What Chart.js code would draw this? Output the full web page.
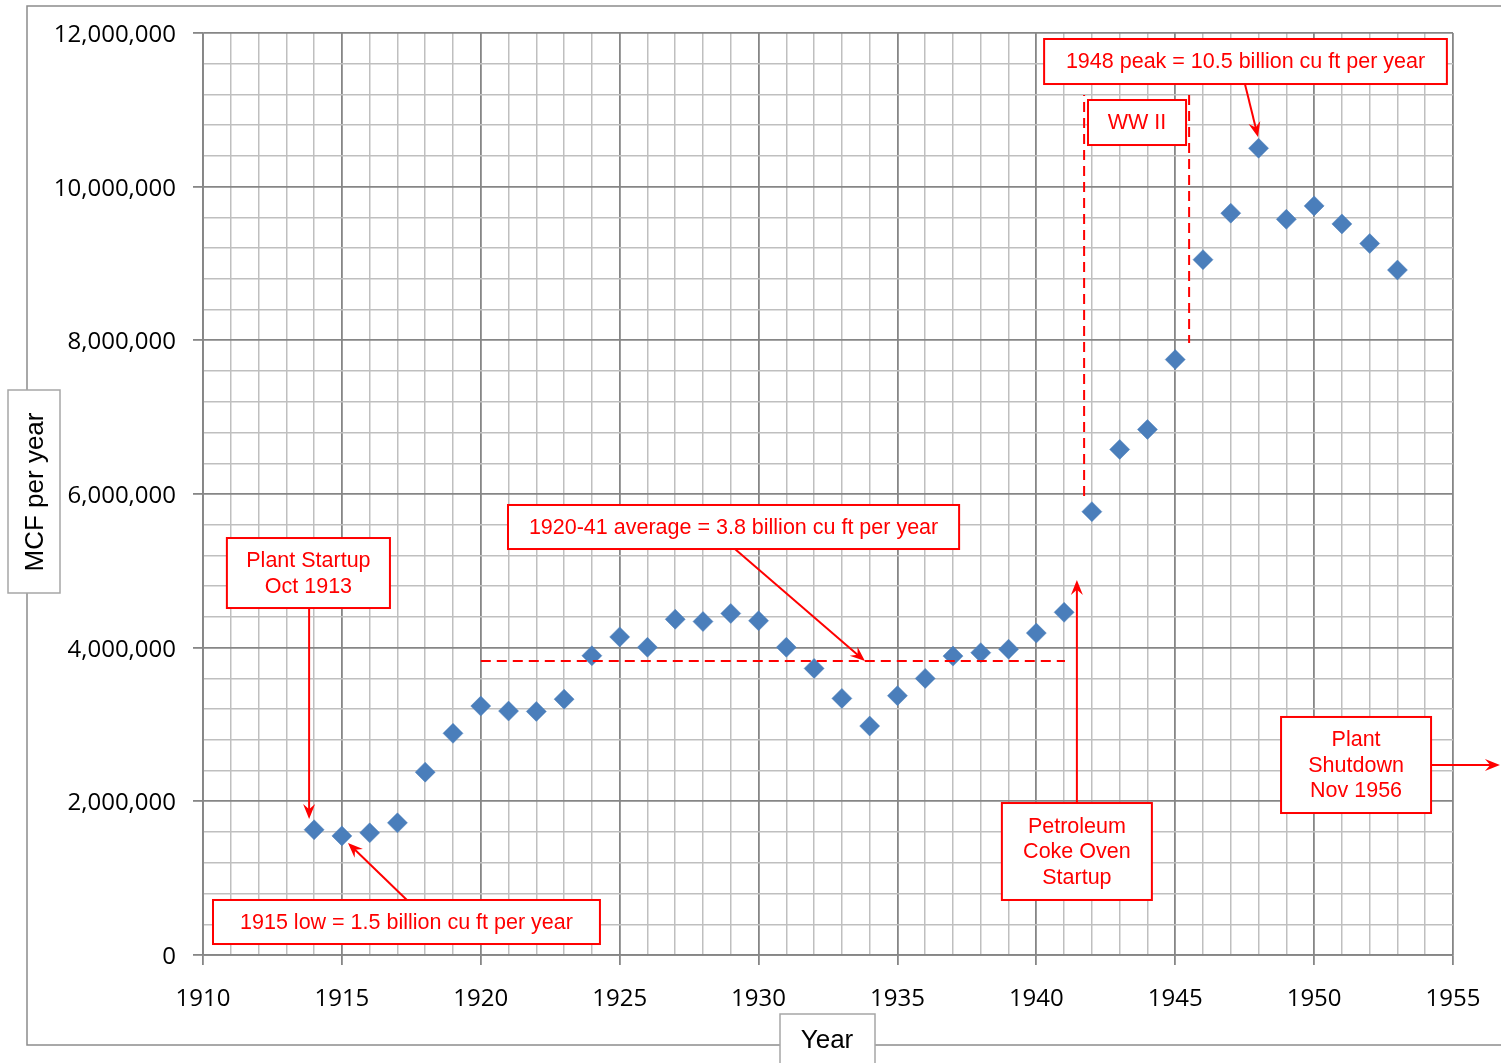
<!DOCTYPE html>
<html>
<head>
<meta charset="utf-8">
<script src="https://cdn.jsdelivr.net/npm/chart.js@4.4.1/dist/chart.umd.min.js"></script>
<style>
  html, body { margin: 0; padding: 0; background: #fff; }
  #wrap { width: 1501px; height: 1063px; }
</style>
</head>
<body>
<div id="wrap"><canvas id="chart" width="1501" height="1063"></canvas></div>
<script>
// Gas production, MCF per year
const years = [1914, 1915, 1916, 1917, 1918, 1919, 1920, 1921, 1922, 1923,
               1924, 1925, 1926, 1927, 1928, 1929, 1930, 1931, 1932, 1933,
               1934, 1935, 1936, 1937, 1938, 1939, 1940, 1941, 1942, 1943,
               1944, 1945, 1946, 1947, 1948, 1949, 1950, 1951, 1952, 1953];
const mcf = [1630000, 1550000, 1590000, 1720000, 2380000, 2885000, 3240000, 3175000, 3170000, 3330000,
             3895000, 4140000, 4005000, 4370000, 4340000, 4445000, 4350000, 4005000, 3730000, 3340000,
             2980000, 3375000, 3600000, 3890000, 3935000, 3980000, 4190000, 4460000, 5770000, 6580000,
             6840000, 7750000, 9050000, 9655000, 10500000, 9575000, 9750000, 9515000, 9260000, 8915000];

// tick labels shown on the axes
const yearLabels = [1910, 1915, 1920, 1925, 1930, 1935, 1940, 1945, 1950, 1955];
const mcfLabels = [0, 2000000, 4000000, 6000000, 8000000, 10000000, 12000000];

// annotation boxes (data units: x1, yTop, x2, yBottom)
const boxes = [
  { text: ['Plant Startup', 'Oct 1913'], r: [1910.86, 5427000, 1916.73, 4516000] },
  { text: ['1915 low = 1.5 billion cu ft per year'], r: [1910.36, 716000, 1924.29, 143000] },
  { text: ['1920-41 average = 3.8 billion cu ft per year'], r: [1920.98, 5857000, 1937.22, 5284000] },
  { text: ['Petroleum', 'Coke Oven', 'Startup'], r: [1938.76, 1978000, 1944.16, 716000] },
  { text: ['WW II'], r: [1941.86, 11128000, 1945.39, 10542000] },
  { text: ['1948 peak = 10.5 billion cu ft per year'], r: [1940.28, 11922000, 1954.78, 11336000] },
  { text: ['Plant', 'Shutdown', 'Nov 1956'], r: [1948.81, 3098000, 1954.21, 1848000] }
];
// arrows [x1, y1, x2, y2], head at the second point
const arrows = [
  [1913.82, 4516000, 1913.82, 1770000],
  [1917.34, 716000, 1915.22, 1458000],
  [1929.15, 5284000, 1933.83, 3826000],
  [1941.46, 1978000, 1941.46, 4881000],
  [1947.51, 11336000, 1947.98, 10646000],
  [1954.21, 2473000, 1956.69, 2473000]
];
// dashed lines
const dashes = [
  [1920, 3826000, 1941.03, 3826000],
  [1941.72, 5974000, 1941.72, 11193000],
  [1945.5, 11193000, 1945.5, 7965000]
];

const RED = '#ff0000';
const MAJOR = '#868686';
const MINOR = '#bfbfbf';
const annoFont = '21.5px "Liberation Sans", Arial, sans-serif';

function drawArrow(ctx, x1, y1, x2, y2) {
  const a = Math.atan2(y2 - y1, x2 - x1);
  const c = Math.cos(a), s = Math.sin(a);
  const L = 15, W = 6;
  ctx.beginPath();
  ctx.moveTo(x1, y1);
  ctx.lineTo(x2 - c * L * 0.6, y2 - s * L * 0.6);
  ctx.stroke();
  ctx.beginPath();
  ctx.moveTo(x2, y2);
  ctx.lineTo(x2 - c * L - s * W, y2 - s * L + c * W);
  ctx.lineTo(x2 - c * L * 0.65, y2 - s * L * 0.65);
  ctx.lineTo(x2 - c * L + s * W, y2 - s * L - c * W);
  ctx.closePath();
  ctx.fill();
}

const annotations = {
  id: 'annotations',
  beforeDraw(chart) {
    const ctx = chart.ctx;
    ctx.save();
    ctx.strokeStyle = '#8c8c8c';
    ctx.lineWidth = 1.5;
    ctx.strokeRect(27, 6, 1490, 1039);
    ctx.restore();
  },
  afterDraw(chart) {
    const ctx = chart.ctx;
    const xs = chart.scales.x, ys = chart.scales.y;
    const X = v => xs.getPixelForValue(v);
    const Y = v => ys.getPixelForValue(v);
    ctx.save();
    ctx.strokeStyle = RED;
    ctx.fillStyle = RED;

    // dashed lines
    ctx.lineWidth = 2;
    ctx.setLineDash([10, 6]);
    dashes.forEach(d => {
      ctx.beginPath();
      ctx.moveTo(X(d[0]), Y(d[1]));
      ctx.lineTo(X(d[2]), Y(d[3]));
      ctx.stroke();
    });
    ctx.setLineDash([]);

    // arrows
    ctx.lineWidth = 2;
    arrows.forEach(a => drawArrow(ctx, X(a[0]), Y(a[1]), X(a[2]), Y(a[3])));

    // boxes
    ctx.font = annoFont;
    ctx.textAlign = 'center';
    ctx.textBaseline = 'middle';
    boxes.forEach(b => {
      const x1 = X(b.r[0]), y1 = Y(b.r[1]), x2 = X(b.r[2]), y2 = Y(b.r[3]);
      ctx.fillStyle = '#fff';
      ctx.fillRect(x1, y1, x2 - x1, y2 - y1);
      ctx.lineWidth = 2;
      ctx.strokeStyle = RED;
      ctx.strokeRect(x1, y1, x2 - x1, y2 - y1);
      ctx.fillStyle = RED;
      const lh = 25.5;
      const cx = (x1 + x2) / 2, cy = (y1 + y2) / 2;
      b.text.forEach((t, i) => {
        ctx.fillText(t, cx, cy + (i - (b.text.length - 1) / 2) * lh + 1);
      });
    });

    // axis title boxes
    ctx.lineWidth = 1.5;
    ctx.strokeStyle = '#a6a6a6';
    ctx.fillStyle = '#fff';
    ctx.fillRect(8, 390, 52, 203);
    ctx.strokeRect(8, 390, 52, 203);
    ctx.fillRect(780, 1014, 95, 60);
    ctx.strokeRect(780, 1014, 95, 60);
    ctx.fillStyle = '#000';
    ctx.font = '26px "Liberation Sans", Arial, sans-serif';
    ctx.fillText('Year', 827, 1041);
    ctx.translate(35, 492);
    ctx.rotate(-Math.PI / 2);
    ctx.fillText('MCF per year', 0, 1);
    ctx.restore();
  }
};

const tickFont = { family: '"Open Sans", sans-serif', size: 24 };

new Chart(document.getElementById('chart').getContext('2d'), {
  type: 'scatter',
  data: {
    datasets: [{
      data: years.map((y, i) => ({ x: y, y: mcf[i] })),
      pointStyle: 'rectRot',
      pointRadius: 10,
      pointBackgroundColor: '#4a7ebb',
      pointBorderColor: '#4a7ebb',
      pointBorderWidth: 0.5
    }]
  },
  options: {
    responsive: false,
    animation: false,
    devicePixelRatio: 1,
    layout: { padding: { left: 0, right: 48, top: 33, bottom: 0 } },
    plugins: { legend: { display: false }, tooltip: { enabled: false } },
    scales: {
      x: {
        type: 'linear',
        min: 1910,
        max: 1955,
        afterFit: s => { s.height = 108; },
        border: { color: MAJOR, width: 1.8 },
        grid: {
          color: c => (c.tick && c.tick.value % 5 === 0) ? MAJOR : MINOR,
          lineWidth: c => (c.tick && c.tick.value % 5 === 0) ? 1.8 : 1.5,
          tickColor: c => (c.tick && c.tick.value % 5 === 0) ? MAJOR : 'rgba(0,0,0,0)',
          tickLength: 10
        },
        ticks: {
          stepSize: 1,
          autoSkip: false,
          maxRotation: 0,
          padding: 20,
          color: '#000',
          font: tickFont,
          callback: v => yearLabels.includes(v) ? String(v) : ''
        }
      },
      y: {
        min: 0,
        max: 12000000,
        afterFit: s => { s.width = 203; },
        border: { color: MAJOR, width: 1.8 },
        grid: {
          color: c => (c.tick && c.tick.value % 2000000 === 0) ? MAJOR : MINOR,
          lineWidth: c => (c.tick && c.tick.value % 2000000 === 0) ? 1.8 : 1.5,
          tickColor: c => (c.tick && c.tick.value % 2000000 === 0) ? MAJOR : 'rgba(0,0,0,0)',
          tickLength: 10
        },
        ticks: {
          stepSize: 400000,
          autoSkip: false,
          padding: 17,
          labelOffset: 2,
          color: '#000',
          font: tickFont,
          callback: v => mcfLabels.includes(v) ? v.toLocaleString('en-US') : ''
        }
      }
    }
  },
  plugins: [annotations]
});
</script>
</body>
</html>
